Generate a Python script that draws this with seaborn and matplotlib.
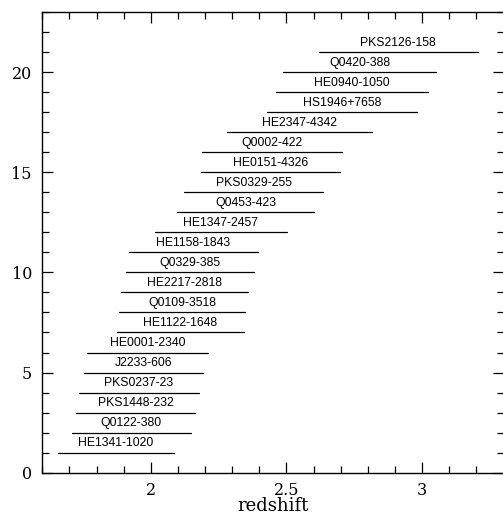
import matplotlib
matplotlib.use("Agg")
import matplotlib.pyplot as plt
import seaborn as sns
import pandas as pd
from matplotlib.ticker import MultipleLocator, FixedLocator

names = ["HE1341-1020", "Q0122-380", "PKS1448-232", "PKS0237-23", "J2233-606",
         "HE0001-2340", "HE1122-1648", "Q0109-3518", "HE2217-2818", "Q0329-385",
         "HE1158-1843", "HE1347-2457", "Q0453-423", "PKS0329-255", "HE0151-4326",
         "Q0002-422", "HE2347-4342", "HS1946+7658", "HE0940-1050", "Q0420-388",
         "PKS2126-158"]
z_start = [1.657, 1.709, 1.724, 1.735, 1.752, 1.763, 1.877, 1.883, 1.891, 1.910,
           1.920, 2.015, 2.098, 2.124, 2.186, 2.187, 2.281, 2.429, 2.462, 2.489, 2.619]
z_end = [2.084, 2.148, 2.164, 2.176, 2.192, 2.211, 2.342, 2.347, 2.357, 2.381,
         2.394, 2.501, 2.600, 2.636, 2.698, 2.704, 2.814, 2.983, 3.020, 3.053, 3.205]
rows = list(range(1, len(names) + 1))

x_ticks = [2, 2.5, 3]
x_ticklabels = ["2", "2.5", "3"]
y_ticks = [0, 5, 10, 15, 20]

recs = []
for n, r, a, b in zip(names, rows, z_start, z_end):
    recs.append({"name": n, "row": r, "z": a})
    recs.append({"name": n, "row": r, "z": b})
df = pd.DataFrame(recs)

sns.set_theme(style="ticks")
plt.rcParams["font.family"] = ["DejaVu Serif"]

fig = plt.figure(figsize=(5.03, 5.16), dpi=100)
ax = fig.add_axes([42.3 / 503, 43.3 / 516, (503.5 - 42.3) / 503, (472.7 - 12) / 516])

sns.lineplot(data=df, x="z", y="row", units="name", estimator=None, sort=False,
             color="black", linewidth=0.9, ax=ax, legend=False)

for n, r, a, b in zip(names, rows, z_start, z_end):
    ax.text((a + b) / 2, r + 0.17, n, ha="center", va="bottom",
            fontsize=8.8, family=["Liberation Sans"], color="black")

ax.set_xlim(1.6, 3.3)
ax.set_ylim(0, 23)
ax.xaxis.set_major_locator(FixedLocator(x_ticks))
ax.set_xticklabels(x_ticklabels)
ax.xaxis.set_minor_locator(MultipleLocator(0.1))
ax.yaxis.set_major_locator(FixedLocator(y_ticks))
ax.yaxis.set_minor_locator(MultipleLocator(1))

ax.tick_params(which="both", direction="in", top=True, right=True, color="black",
               width=0.9, labelsize=11.5, labelcolor="black")
ax.tick_params(which="major", length=8)
ax.tick_params(which="minor", length=4.8)
ax.tick_params(axis="x", which="major", pad=6.5)
ax.tick_params(axis="y", which="major", pad=7.5)

for s in ax.spines.values():
    s.set_visible(True)
    s.set_color("black")
    s.set_linewidth(1.0)

ax.set_xlabel("redshift", fontsize=13, labelpad=-1, color="black")
ax.set_ylabel("")

fig.savefig("out.png", dpi=100)
